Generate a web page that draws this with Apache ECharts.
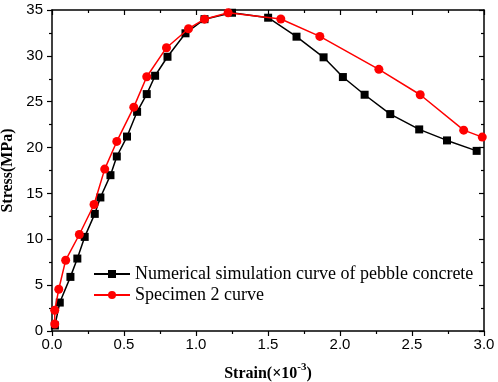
<!DOCTYPE html>
<html>
<head>
<meta charset="utf-8">
<script src="https://cdn.jsdelivr.net/npm/echarts@6/dist/echarts.min.js"></script>
<style>
  html, body { margin: 0; padding: 0; background: #fff; }
  #chart { width: 498px; height: 382px; }
</style>
</head>
<body>
<div id="chart"></div>
<script>
// strain (x10^-3) / stress (MPa)
var simStrain = [0.02, 0.054, 0.128, 0.176, 0.227, 0.297, 0.336, 0.406, 0.45, 0.521, 0.591, 0.658, 0.716, 0.802, 0.927, 1.059, 1.25, 1.501, 1.698, 1.886, 2.02, 2.171, 2.349, 2.55, 2.743, 2.949];
var simStress = [0.6, 3.1, 5.9, 7.9, 10.26, 12.77, 14.56, 16.99, 19.03, 21.2, 23.9, 25.83, 27.83, 29.9, 32.46, 34.0, 34.7, 34.16, 32.09, 29.84, 27.69, 25.76, 23.65, 21.98, 20.78, 19.64];

var specStrain = [0.019, 0.019, 0.047, 0.095, 0.19, 0.292, 0.366, 0.45, 0.568, 0.658, 0.795, 0.948, 1.059, 1.223, 1.589, 1.86, 2.27, 2.557, 2.859, 2.988];
var specStress = [0.76, 2.26, 4.55, 7.72, 10.52, 13.79, 17.65, 20.67, 24.41, 27.72, 30.89, 32.96, 34.0, 34.7, 34.02, 32.12, 28.53, 25.76, 21.9, 21.14];

var seriesNames = ["Numerical simulation curve of pebble concrete", "Specimen 2 curve"];

function pairs(xs, ys) {
  var out = [];
  xs.forEach(function (x, i) { out.push([x, ys[i]]); });
  return out;
}

var chart = echarts.init(document.getElementById("chart"));

var axisLine = { show: true, onZero: false, lineStyle: { color: "#000", width: 1.5 } };
var labelFont = { color: "#000", fontFamily: "Liberation Sans", fontSize: 15 };

chart.setOption({
  animation: false,
  backgroundColor: "#fff",
  grid: { left: 52, right: 14, top: 10, bottom: 51, outerBoundsMode: "none", containLabel: false },
  legend: {
    left: 88,
    top: 259,
    orient: "vertical",
    itemGap: 1,
    itemWidth: 36,
    itemHeight: 10,
    textStyle: { color: "#000", fontFamily: "Liberation Serif", fontSize: 18, lineHeight: 20 },
    data: seriesNames
  },
  xAxis: [
    {
      type: "value", min: 0, max: 3, interval: 0.5,
      name: "{b|Strain(×10}{s|-3}{b|)}",
      nameLocation: "middle", nameGap: 31,
      nameTextStyle: {
        rich: {
          b: { fontFamily: "Liberation Serif", fontWeight: "bold", fontSize: 16, color: "#000" },
          s: { fontFamily: "Liberation Serif", fontWeight: "bold", fontSize: 11, color: "#000", verticalAlign: "top", padding: [0, 0, 12, 0] }
        }
      },
      axisLine: axisLine,
      axisTick: { inside: false, length: 5, lineStyle: { color: "#000", width: 1.2 } },
      minorTick: { show: true, splitNumber: 2, length: 3, lineStyle: { color: "#000", width: 1.2 } },
      axisLabel: Object.assign({ margin: 6, formatter: function (v) { return v.toFixed(1); } }, labelFont),
      splitLine: { show: false }
    },
    {
      type: "value", position: "top", min: 0, max: 3, interval: 0.5,
      axisLine: axisLine,
      axisTick: { inside: true, length: 5, lineStyle: { color: "#000", width: 1.2 } },
      minorTick: { show: true, splitNumber: 2, length: 3, lineStyle: { color: "#000", width: 1.2 } },
      axisLabel: { show: false },
      splitLine: { show: false }
    }
  ],
  yAxis: [
    {
      type: "value", min: 0, max: 35, interval: 5,
      name: "Stress(MPa)",
      nameLocation: "middle", nameGap: 33,
      nameTextStyle: { fontFamily: "Liberation Serif", fontWeight: "bold", fontSize: 16, color: "#000" },
      axisLine: axisLine,
      axisTick: { inside: false, length: 5, lineStyle: { color: "#000", width: 1.2 } },
      minorTick: { show: true, splitNumber: 2, length: 3, lineStyle: { color: "#000", width: 1.2 } },
      axisLabel: Object.assign({ margin: 9 }, labelFont),
      splitLine: { show: false }
    },
    {
      type: "value", position: "right", min: 0, max: 35, interval: 5,
      axisLine: axisLine,
      axisTick: { inside: true, length: 5, lineStyle: { color: "#000", width: 1.2 } },
      minorTick: { show: true, splitNumber: 2, length: 3, lineStyle: { color: "#000", width: 1.2 } },
      axisLabel: { show: false },
      splitLine: { show: false }
    }
  ],
  series: [
    {
      name: seriesNames[0],
      type: "line",
      data: pairs(simStrain, simStress),
      symbol: "rect",
      symbolSize: 8,
      itemStyle: { color: "#000" },
      lineStyle: { color: "#000", width: 1.5 },
      z: 2
    },
    {
      name: seriesNames[1],
      type: "line",
      data: pairs(specStrain, specStress),
      symbol: "circle",
      symbolSize: 9,
      itemStyle: { color: "#ff0000" },
      lineStyle: { color: "#ff0000", width: 1.5 },
      z: 3
    }
  ]
});
</script>
</body>
</html>
